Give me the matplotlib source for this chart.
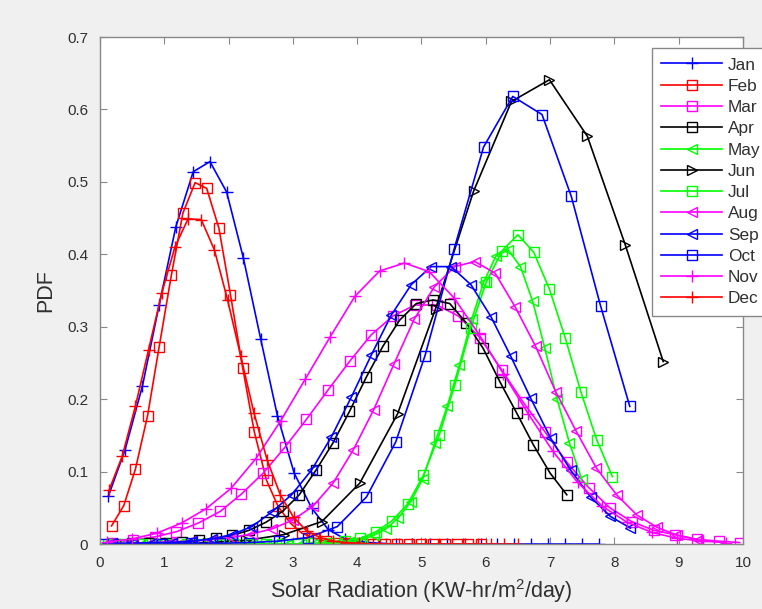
import matplotlib
matplotlib.use("Agg")
import matplotlib.pyplot as plt

plt.rcParams['font.family'] = ['Liberation Sans', 'DejaVu Sans']
plt.rcParams['mathtext.fontset'] = 'custom'
plt.rcParams['mathtext.rm'] = 'Liberation Sans'

# values, one pair of lists per month
jan_x = [0.13, 0.39, 0.66, 0.92, 1.18, 1.45, 1.71, 1.97, 2.23, 2.50, 2.76, 3.02, 3.29, 3.55, 3.81,
         4.08, 4.34, 4.60, 4.86, 5.13, 5.39, 5.65, 5.92, 6.18, 6.44, 6.71, 6.97, 7.23, 7.49, 7.76]
jan_y = [0.066, 0.13, 0.218, 0.33, 0.438, 0.514, 0.528, 0.486, 0.395, 0.283, 0.177, 0.098, 0.05, 0.02,
         0.007, 0.003, 0.001, 0, 0, 0, 0, 0, 0, 0, 0, 0, 0, 0, 0, 0]

feb_x = [0.18, 0.37, 0.55, 0.74, 0.92, 1.11, 1.29, 1.48, 1.66, 1.85, 2.03, 2.22, 2.40, 2.59, 2.77, 2.96,
         3.14, 3.33, 3.51, 3.70, 3.88, 4.07, 4.25, 4.44, 4.62, 4.81, 4.99, 5.18, 5.36, 5.55, 5.73, 5.92]
feb_y = [0.025, 0.053, 0.103, 0.177, 0.272, 0.371, 0.457, 0.499, 0.491, 0.436, 0.344, 0.243, 0.155,
         0.088, 0.052, 0.029, 0.015, 0.008, 0.004, 0.002, 0.001, 0, 0, 0, 0, 0, 0, 0, 0, 0, 0, 0]

mar_x = [0.18, 0.52, 0.86, 1.19, 1.53, 1.87, 2.20, 2.54, 2.88, 3.21, 3.55, 3.89, 4.22, 4.56, 4.90,
         5.24, 5.57, 5.91, 6.25, 6.58, 6.92, 7.26, 7.60, 7.93, 8.27, 8.61, 8.94, 9.28, 9.62, 9.95]
mar_y = [0.002, 0.0055, 0.010, 0.017, 0.029, 0.045, 0.069, 0.098, 0.134, 0.172, 0.213, 0.253, 0.289,
         0.315, 0.330, 0.330, 0.315, 0.285, 0.240, 0.196, 0.155, 0.113, 0.078, 0.050, 0.031, 0.019,
         0.013, 0.0065, 0.004, 0.002]

apr_x = [0.24, 0.50, 0.76, 1.02, 1.28, 1.54, 1.80, 2.06, 2.32, 2.58, 2.84, 3.10, 3.36, 3.62, 3.88,
         4.14, 4.40, 4.66, 4.92, 5.18, 5.44, 5.70, 5.96, 6.22, 6.48, 6.74, 7.00, 7.26]
apr_y = [0.0, 0.001, 0.001, 0.002, 0.003, 0.005, 0.008, 0.012, 0.019, 0.030, 0.045, 0.068, 0.102,
         0.139, 0.183, 0.230, 0.273, 0.309, 0.332, 0.337, 0.332, 0.305, 0.270, 0.224, 0.181, 0.137,
         0.098, 0.068]

may_x = [0.08, 0.27, 0.46, 0.65, 0.84, 1.03, 1.22, 1.41, 1.60, 1.79, 1.98, 2.17, 2.36, 2.55, 2.74,
         2.93, 3.12, 3.31, 3.50, 3.69, 3.88, 4.07, 4.26, 4.45, 4.64, 4.83, 5.02, 5.21, 5.40, 5.59,
         5.78, 5.97, 6.16, 6.35, 6.54, 6.73, 6.92, 7.11, 7.30, 7.49]
may_y = [0, 0, 0, 0, 0, 0, 0, 0, 0, 0, 0, 0, 0, 0, 0, 0, 0, 0,
         0.001, 0.0015, 0.003, 0.006, 0.012, 0.021, 0.036, 0.058, 0.09, 0.14, 0.19, 0.247, 0.31,
         0.362, 0.398, 0.406, 0.383, 0.335, 0.27, 0.2, 0.14, 0.09]

jun_x = [0.50, 1.09, 1.68, 2.27, 2.86, 3.45, 4.04, 4.63, 5.22, 5.81, 6.40, 6.99, 7.58, 8.17, 8.76]
jun_y = [0.0, 0.001, 0.002, 0.005, 0.013, 0.031, 0.084, 0.180, 0.325, 0.487, 0.611, 0.641, 0.563,
         0.413, 0.252]

jul_x = [0.13, 0.375, 0.62, 0.865, 1.11, 1.355, 1.60, 1.845, 2.09, 2.335, 2.58, 2.825, 3.07, 3.315,
         3.56, 3.805, 4.05, 4.295, 4.54, 4.785, 5.03, 5.275, 5.52, 5.765, 6.01, 6.255, 6.50, 6.745,
         6.99, 7.235, 7.48, 7.725, 7.97]
jul_y = [0, 0, 0, 0, 0, 0, 0, 0, 0, 0, 0, 0, 0,
         0.001, 0.002, 0.004, 0.008, 0.017, 0.032, 0.055, 0.095, 0.15, 0.22, 0.298, 0.362, 0.405,
         0.427, 0.403, 0.352, 0.285, 0.21, 0.144, 0.093]

aug_x = [0.16, 0.475, 0.79, 1.105, 1.42, 1.735, 2.05, 2.365, 2.68, 2.995, 3.31, 3.625, 3.94, 4.255,
         4.57, 4.885, 5.20, 5.515, 5.83, 6.145, 6.46, 6.775, 7.09, 7.405, 7.72, 8.035, 8.35, 8.665,
         8.98, 9.295]
aug_y = [0.001, 0.001, 0.002, 0.003, 0.004, 0.006, 0.009, 0.014, 0.021, 0.033, 0.052, 0.084, 0.130,
         0.185, 0.248, 0.310, 0.355, 0.383, 0.390, 0.374, 0.327, 0.273, 0.210, 0.156, 0.105, 0.068,
         0.040, 0.023, 0.012, 0.006]

sep_x = [0.19, 0.50, 0.81, 1.12, 1.43, 1.74, 2.05, 2.36, 2.67, 2.98, 3.29, 3.60, 3.91, 4.22, 4.53,
         4.84, 5.15, 5.46, 5.77, 6.08, 6.39, 6.70, 7.01, 7.32, 7.63, 7.94, 8.25]
sep_y = [0.001, 0.001, 0.002, 0.002, 0.004, 0.007, 0.013, 0.024, 0.044, 0.068, 0.102, 0.148, 0.203,
         0.261, 0.316, 0.358, 0.383, 0.383, 0.358, 0.314, 0.259, 0.201, 0.146, 0.102, 0.065, 0.038,
         0.022]

oct_x = [0.05, 0.505, 0.96, 1.415, 1.87, 2.325, 2.78, 3.235, 3.69, 4.145, 4.60, 5.055, 5.51, 5.965,
         6.42, 6.875, 7.33, 7.785, 8.24]
oct_y = [0.0, 0.0, 0.0, 0.001, 0.001, 0.002, 0.004, 0.009, 0.024, 0.065, 0.141, 0.260, 0.408, 0.548,
         0.618, 0.593, 0.480, 0.329, 0.190]

nov_x = [0.115, 0.50, 0.885, 1.27, 1.655, 2.04, 2.425, 2.81, 3.195, 3.58, 3.965, 4.35, 4.735, 5.12,
         5.505, 5.89, 6.275, 6.66, 7.045, 7.43, 7.815, 8.20, 8.585, 8.97, 9.355, 9.74]
nov_y = [0.003, 0.007, 0.015, 0.029, 0.049, 0.077, 0.118, 0.170, 0.228, 0.286, 0.342, 0.377, 0.388,
         0.376, 0.340, 0.290, 0.235, 0.180, 0.128, 0.085, 0.052, 0.030, 0.016, 0.008, 0.004, 0.002]

dec_x = [0.14, 0.345, 0.55, 0.755, 0.96, 1.165, 1.37, 1.575, 1.78, 1.985, 2.19, 2.395, 2.60, 2.805,
         3.01, 3.215, 3.42, 3.625, 3.83, 4.035, 4.24, 4.445, 4.65, 4.855, 5.06, 5.265, 5.47, 5.675,
         5.88, 6.085, 6.29, 6.495]
dec_y = [0.074, 0.121, 0.190, 0.268, 0.346, 0.410, 0.449, 0.448, 0.406, 0.337, 0.259, 0.181, 0.116,
         0.068, 0.037, 0.018, 0.009, 0.004, 0.002, 0.001, 0, 0, 0, 0, 0, 0, 0, 0, 0, 0, 0, 0]

months = ['Jan', 'Feb', 'Mar', 'Apr', 'May', 'Jun', 'Jul', 'Aug', 'Sep', 'Oct', 'Nov', 'Dec']
series = [(jan_x, jan_y), (feb_x, feb_y), (mar_x, mar_y), (apr_x, apr_y), (may_x, may_y),
          (jun_x, jun_y), (jul_x, jul_y), (aug_x, aug_y), (sep_x, sep_y), (oct_x, oct_y),
          (nov_x, nov_y), (dec_x, dec_y)]
colors = ['#0000ff', '#ff0000', '#ff00ff', '#000000', '#00ff00', '#000000',
          '#00ff00', '#ff00ff', '#0000ff', '#0000ff', '#ff00ff', '#ff0000']
markers = ['+', 's', 's', 's', '<', '>', 's', '<', '<', 's', '+', '+']

fig = plt.figure(figsize=(7.62, 6.09), dpi=100, facecolor='#f0f0f0')
ax = fig.add_axes([0.1312, 0.1067, 0.8438, 0.8325])

for (x, y), name, c, m in zip(series, months, colors, markers):
    ms = 9 if m == '+' else 6.5
    ax.plot(x, y, color=c, marker=m, markersize=ms, markerfacecolor='none',
            markeredgecolor=c, markeredgewidth=1.0, linewidth=1.2, label=name)

ax.set_xlim(0, 10)
ax.set_ylim(0, 0.7)
ax.set_xticks(range(0, 11))
ax.set_yticks([0, 0.1, 0.2, 0.3, 0.4, 0.5, 0.6, 0.7])
ax.set_yticklabels(['0', '0.1', '0.2', '0.3', '0.4', '0.5', '0.6', '0.7'])
ax.tick_params(direction='in', top=True, right=True, length=5, width=0.8, pad=8.5,
               colors='#888888', labelcolor='#303030', labelsize=11)
for sp in ax.spines.values():
    sp.set_color('#888888')
    sp.set_linewidth(1.0)

ax.set_xlabel(r'Solar Radiation (KW-hr/m$^2$/day)', fontsize=15.5, color='#303030', labelpad=5)
ax.set_ylabel('PDF', fontsize=15.5, color='#303030', labelpad=8)

# legend sits partly past the right edge of the figure, as in the original
leg = ax.legend(loc='upper left', bbox_to_anchor=(0.8556, 0.9212), bbox_transform=fig.transFigure,
                fontsize=12.4, frameon=True, fancybox=False, framealpha=1, edgecolor='#888888',
                handlelength=3.5, handletextpad=0.35, labelspacing=0.36, borderpad=0.55,
                borderaxespad=0)
leg.get_frame().set_linewidth(1.0)
for t in leg.get_texts():
    t.set_color('#303030')

fig.savefig('out.png', dpi=100, facecolor=fig.get_facecolor())
